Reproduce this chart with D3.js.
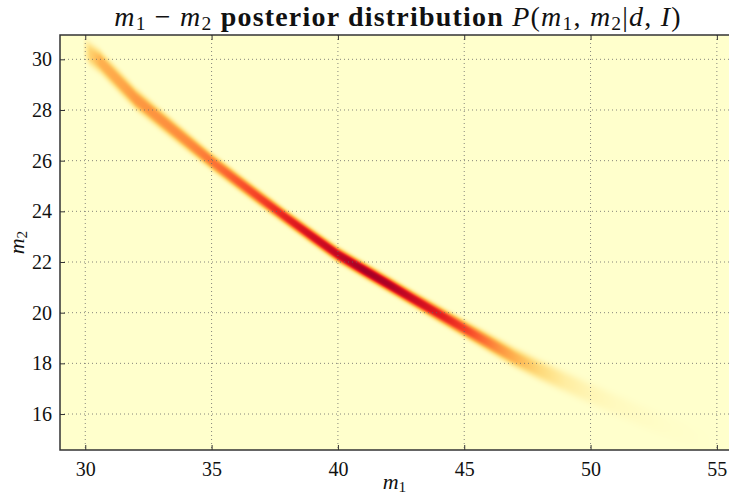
<!DOCTYPE html>
<html>
<head>
<meta charset="utf-8">
<script src="https://cdn.jsdelivr.net/npm/d3@7"></script>
<style>
  body { margin: 0; background: #fff; }
  text { font-family: "Liberation Serif", "DejaVu Serif", serif; fill: #111; }
</style>
</head>
<body>
<div id="chart"></div>
<script>
// ridge of the posterior band
const ridgeM1 = [29.9, 30.2, 30.6, 31.5, 32, 33, 34, 35, 36, 37, 38, 39, 40, 41, 42, 43, 44, 45, 46, 47, 48, 49, 50, 51, 52, 53, 54, 55];
const ridgeM2 = [30.45, 30.2, 29.9, 28.96, 28.44, 27.61, 26.79, 25.97, 25.21, 24.46, 23.72, 23.0, 22.29, 21.7, 21.12, 20.53, 19.95, 19.37, 18.8, 18.23, 17.73, 17.27, 16.81, 16.37, 15.93, 15.52, 15.12, 14.75];
const peak   = [0, 0.28, 0.4, 0.44, 0.48, 0.5, 0.52, 0.57, 0.64, 0.7, 0.78, 0.85, 0.9, 0.97, 0.95, 0.87, 0.8, 0.7, 0.56, 0.4, 0.25, 0.13, 0.07, 0.04, 0.025, 0.012, 0.005, 0];
const spread = [0.34, 0.34, 0.33, 0.32, 0.31, 0.29, 0.27, 0.25, 0.24, 0.23, 0.22, 0.22, 0.22, 0.22, 0.22, 0.22, 0.23, 0.24, 0.26, 0.28, 0.3, 0.32, 0.33, 0.34, 0.35, 0.36, 0.36, 0.36];

const xTicks = [30, 35, 40, 45, 50, 55];
const yTicks = [16, 18, 20, 22, 24, 26, 28, 30];

const width = 729, height = 497;
const margin = {top: 35, right: 0, bottom: 47, left: 60};
const pw = width - margin.left - margin.right;
const ph = height - margin.top - margin.bottom;

const x = d3.scaleLinear().domain([29, 55.48]).range([0, pw]);
const y = d3.scaleLinear().domain([14.58, 30.96]).range([ph, 0]);

// piecewise ridge lookups
const centre = d3.scaleLinear().domain(ridgeM1).range(ridgeM2).clamp(true);
const height2 = d3.scaleLinear().domain(ridgeM1).range(peak).clamp(true);
const sigma = d3.scaleLinear().domain(ridgeM1).range(spread).clamp(true);
const color = d3.scaleSequential(d3.interpolateYlOrRd).domain([0, 1.05]);

const svg = d3.select("#chart").append("svg")
    .attr("width", width)
    .attr("height", height);

// heatmap on a canvas, then placed in the svg
const canvas = document.createElement("canvas");
canvas.width = pw;
canvas.height = ph;
const ctx = canvas.getContext("2d");
const img = ctx.createImageData(pw, ph);
for (let i = 0; i < pw; i++) {
    const m1 = x.invert(i + 0.5);
    const c = centre(m1), a = height2(m1), s = sigma(m1);
    for (let j = 0; j < ph; j++) {
        const m2 = y.invert(j + 0.5);
        const z = Math.abs(m2 - c) / s;
        const v = (m1 < 29.9 || m1 > 55) ? 0 : a * Math.exp(-0.5 * z * z * z);
        const col = d3.rgb(color(v));
        const k = (j * pw + i) * 4;
        img.data[k] = col.r;
        img.data[k + 1] = col.g;
        img.data[k + 2] = col.b;
        img.data[k + 3] = 255;
    }
}
ctx.putImageData(img, 0, 0);

const g = svg.append("g")
    .attr("transform", `translate(${margin.left},${margin.top})`);

g.append("image")
    .attr("width", pw)
    .attr("height", ph)
    .attr("href", canvas.toDataURL());

// grid
g.selectAll(".gx").data(xTicks).enter().append("line")
    .attr("x1", d => x(d)).attr("x2", d => x(d))
    .attr("y1", 0).attr("y2", ph)
    .attr("stroke", "#666").attr("stroke-width", 0.8)
    .attr("stroke-dasharray", "1,3");
g.selectAll(".gy").data(yTicks).enter().append("line")
    .attr("x1", 0).attr("x2", pw)
    .attr("y1", d => y(d)).attr("y2", d => y(d))
    .attr("stroke", "#666").attr("stroke-width", 0.8)
    .attr("stroke-dasharray", "1,3");

// axes, ticks pointing inward
const xAxis = g.append("g")
    .attr("transform", `translate(0,${ph})`)
    .call(d3.axisBottom(x).tickValues(xTicks).tickSizeInner(-5).tickSizeOuter(0).tickPadding(12));
const xTop = g.append("g")
    .call(d3.axisTop(x).tickValues(xTicks).tickSizeInner(-5).tickSizeOuter(0).tickFormat(""));
const yAxis = g.append("g")
    .call(d3.axisLeft(y).tickValues(yTicks).tickSizeInner(-5).tickSizeOuter(0).tickPadding(8));

[xAxis, xTop, yAxis].forEach(a => {
    a.select(".domain").remove();
    a.selectAll(".tick line").attr("stroke", "#333");
    a.selectAll("text").attr("font-size", 20).attr("fill", "#222")
        .attr("font-family", "'Liberation Serif', serif");
});

// frame
g.append("path")
    .attr("d", `M${pw + 2},0H0V${ph}H${pw + 2}`)
    .attr("fill", "none")
    .attr("stroke", "#333")
    .attr("stroke-width", 1.5);

// labels
svg.append("text")
    .attr("x", margin.left + pw / 2)
    .attr("y", 489)
    .attr("text-anchor", "middle")
    .attr("font-size", 22)
    .html('<tspan font-style="italic">m</tspan><tspan font-size="0.7em" dy="0.2em">1</tspan>');

svg.append("text")
    .attr("transform", `translate(24,${margin.top + ph / 2}) rotate(-90)`)
    .attr("text-anchor", "middle")
    .attr("font-size", 22)
    .html('<tspan font-style="italic">m</tspan><tspan font-size="0.7em" dy="0.2em">2</tspan>');

const title = svg.append("text")
    .attr("x", 398)
    .attr("y", 26)
    .attr("text-anchor", "middle")
    .attr("font-size", 28);
const sub = n => `<tspan font-size="0.7em" dy="0.2em">${n}</tspan>`;
title.html(
    '<tspan font-style="italic">m</tspan>' + sub(1) +
    '<tspan dy="-0.14em"> − </tspan><tspan font-style="italic">m</tspan>' + sub(2) +
    '<tspan dy="-0.14em" font-weight="bold"> posterior distribution </tspan>' +
    '<tspan font-style="italic">P</tspan><tspan>(</tspan><tspan font-style="italic">m</tspan>' + sub(1) +
    '<tspan dy="-0.14em">, </tspan><tspan font-style="italic">m</tspan>' + sub(2) +
    '<tspan dy="-0.14em">|</tspan><tspan font-style="italic">d</tspan><tspan>, </tspan><tspan font-style="italic">I</tspan><tspan>)</tspan>'
);
// widen the title a little towards the span seen in the reference
const len = title.node().getComputedTextLength();
const nChars = title.text().length;
title.attr("letter-spacing", Math.min(1.2, Math.max(0, (613 - len) / nChars)));
</script>
</body>
</html>
